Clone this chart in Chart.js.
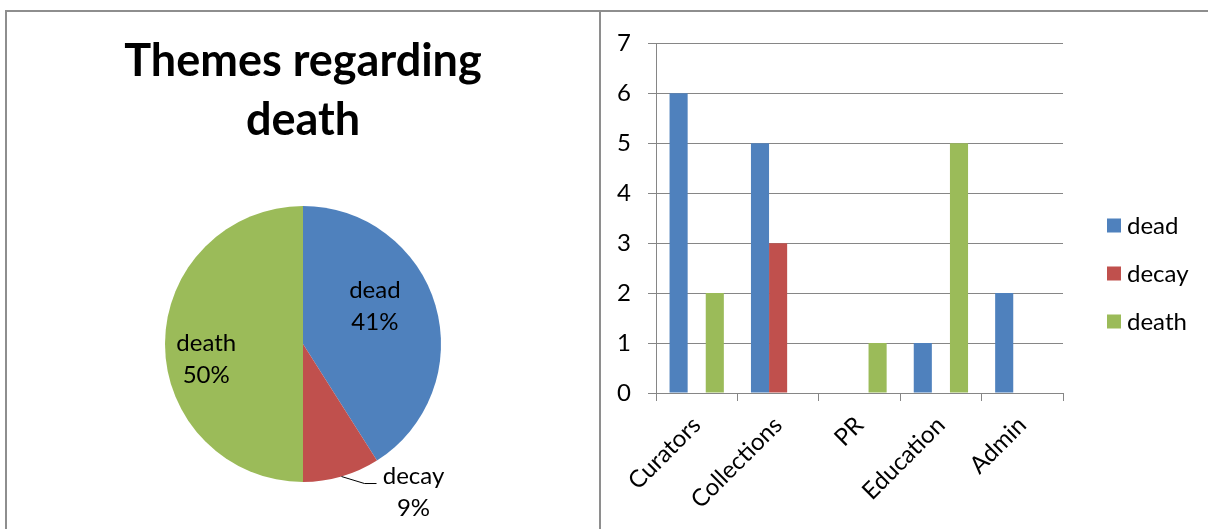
<!DOCTYPE html>
<html>
<head>
<meta charset="utf-8">
<script src="https://cdn.jsdelivr.net/npm/chart.js@4.4.1/dist/chart.umd.min.js"></script>
<style>
  html, body { margin: 0; padding: 0; background: #fff; }
  body { width: 1208px; height: 529px; position: relative; overflow: hidden; }
  #frame { position: absolute; left: 5px; top: 10px; width: 1210px; height: 530px;
           border-top: 2px solid #8e8e8e; border-left: 2px solid #8e8e8e; box-sizing: border-box; }
  #divider { position: absolute; left: 599px; top: 10px; width: 2px; height: 519px; background: #8e8e8e; }
  #pieBox { position: absolute; left: 7px; top: 12px; width: 592px; height: 517px; }
  #barBox { position: absolute; left: 601px; top: 12px; width: 607px; height: 517px; }
</style>
</head>
<body>
<div id="frame"></div>
<div id="divider"></div>
<div id="pieBox"><canvas id="pieChart"></canvas></div>
<div id="barBox"><canvas id="barChart"></canvas></div>

<script>
// Share of each theme (percent)
const themeLabels = ['dead', 'decay', 'death'];
const themeShares = [41, 9, 50];

// Theme mentions per department
const departments = ['Curators', 'Collections', 'PR', 'Education', 'Admin'];
const deadCounts  = [6, 5, 0, 1, 2];
const decayCounts = [0, 3, 0, 0, 0];
const deathCounts = [2, 0, 1, 5, 0];

const yMin = 0;
const yMax = 7;
const yStep = 1;

const COLORS = { dead: '#4F81BD', decay: '#C0504D', death: '#9BBB59' };
const GRID = '#868686';
const FONT = 'Lato';
const TEXT_SIZE = 24;

Chart.defaults.font.family = FONT;
Chart.defaults.color = '#000';

// Percentage labels on the pie: inside slices or outside with a leader line
const sliceLabels = {
  id: 'sliceLabels',
  afterDatasetsDraw(chart, args, opts) {
    const ctx = chart.ctx;
    const values = chart.data.datasets[0].data;
    const total = values.reduce((a, b) => a + b, 0);
    ctx.save();
    ctx.font = opts.size + 'px ' + FONT;
    ctx.fillStyle = '#000';
    ctx.strokeStyle = '#000';
    ctx.lineWidth = 1;
    ctx.textAlign = 'center';
    ctx.textBaseline = 'alphabetic';
    chart.getDatasetMeta(0).data.forEach((arc, i) => {
      const p = arc.getProps(['x', 'y', 'startAngle', 'endAngle', 'outerRadius'], true);
      const pct = Math.round(values[i] / total * 100) + '%';
      const name = chart.data.labels[i];
      const place = opts.placement[i];
      if (place.outside) {
        const a = (p.startAngle + p.endAngle) / 2;
        const sx = p.x + Math.cos(a) * p.outerRadius;
        const sy = p.y + Math.sin(a) * p.outerRadius;
        const ex = sx + 23, ey = sy + 7;
        ctx.beginPath();
        ctx.moveTo(sx, sy);
        ctx.lineTo(ex, ey);
        ctx.lineTo(ex + 12, ey);
        ctx.stroke();
        const tx = ex + 12 + 37;
        ctx.fillText(name, tx, ey);
        ctx.fillText(pct, tx, ey + opts.lineGap);
      } else {
        const a = p.startAngle + (p.endAngle - p.startAngle) * place.along;
        const r = p.outerRadius * place.radius;
        const cx = p.x + Math.cos(a) * r;
        const cy = p.y + Math.sin(a) * r;
        ctx.fillText(name, cx, cy - 8);
        ctx.fillText(pct, cx, cy - 8 + opts.lineGap);
      }
    });
    ctx.restore();
  }
};

// Legend to the right of the bar plot
const sideLegend = {
  id: 'sideLegend',
  afterDraw(chart, args, opts) {
    const ctx = chart.ctx;
    const area = chart.chartArea;
    const sets = chart.data.datasets;
    const mid = chart.height / 2 + 3;
    ctx.save();
    ctx.font = opts.size + 'px ' + FONT;
    ctx.textAlign = 'left';
    ctx.textBaseline = 'middle';
    sets.forEach((ds, i) => {
      const cy = mid + (i - (sets.length - 1) / 2) * opts.spacing;
      const bx = area.right + opts.offset;
      ctx.fillStyle = ds.backgroundColor;
      ctx.fillRect(bx, cy - opts.box / 2, opts.box, opts.box);
      ctx.fillStyle = '#000';
      ctx.fillText(ds.label, bx + opts.box + 6, cy + 1);
    });
    ctx.restore();
  }
};

new Chart(document.getElementById('pieChart'), {
  type: 'pie',
  data: {
    labels: themeLabels,
    datasets: [{
      data: themeShares,
      backgroundColor: themeLabels.map(k => COLORS[k]),
      borderWidth: 0
    }]
  },
  options: {
    responsive: true,
    maintainAspectRatio: false,
    animation: false,
    layout: { padding: { left: 0, right: 0, top: 0, bottom: 47 } },
    plugins: {
      legend: { display: false },
      tooltip: { enabled: false },
      title: {
        display: true,
        text: ['Themes regarding', 'death'],
        color: '#000',
        font: { family: FONT, weight: 'bold', size: 45, lineHeight: '59px' },
        padding: { top: 20, bottom: 56 }
      },
      sliceLabels: {
        size: TEXT_SIZE,
        lineGap: 32,
        placement: [
          { along: 0.42, radius: 0.59 },
          { outside: true },
          { along: 0.45, radius: 0.71 }
        ]
      }
    }
  },
  plugins: [sliceLabels]
});

new Chart(document.getElementById('barChart'), {
  type: 'bar',
  data: {
    labels: departments,
    datasets: [
      { label: 'dead',  data: deadCounts,  backgroundColor: COLORS.dead },
      { label: 'decay', data: decayCounts, backgroundColor: COLORS.decay },
      { label: 'death', data: deathCounts, backgroundColor: COLORS.death }
    ]
  },
  options: {
    responsive: true,
    maintainAspectRatio: false,
    animation: false,
    categoryPercentage: 0.667,
    barPercentage: 1,
    layout: { padding: { top: 30, right: 145, bottom: 0, left: 0 } },
    plugins: {
      legend: { display: false },
      tooltip: { enabled: false },
      sideLegend: { size: TEXT_SIZE, spacing: 48, box: 14, offset: 44 }
    },
    scales: {
      x: {
        grid: { drawOnChartArea: false, color: GRID, tickLength: 8, offset: true },
        border: { color: GRID },
        ticks: { font: { size: TEXT_SIZE }, color: '#000', minRotation: 45, maxRotation: 45, autoSkip: false, padding: 10 },
        afterFit(scale) { scale.height = 136; }
      },
      y: {
        min: yMin,
        max: yMax,
        grid: { color: GRID, tickLength: 8 },
        border: { color: GRID },
        ticks: { stepSize: yStep, font: { size: TEXT_SIZE }, color: '#000', padding: 17 },
        afterFit(scale) { scale.width = 55; }
      }
    }
  },
  plugins: [sideLegend]
});
</script>
</body>
</html>
